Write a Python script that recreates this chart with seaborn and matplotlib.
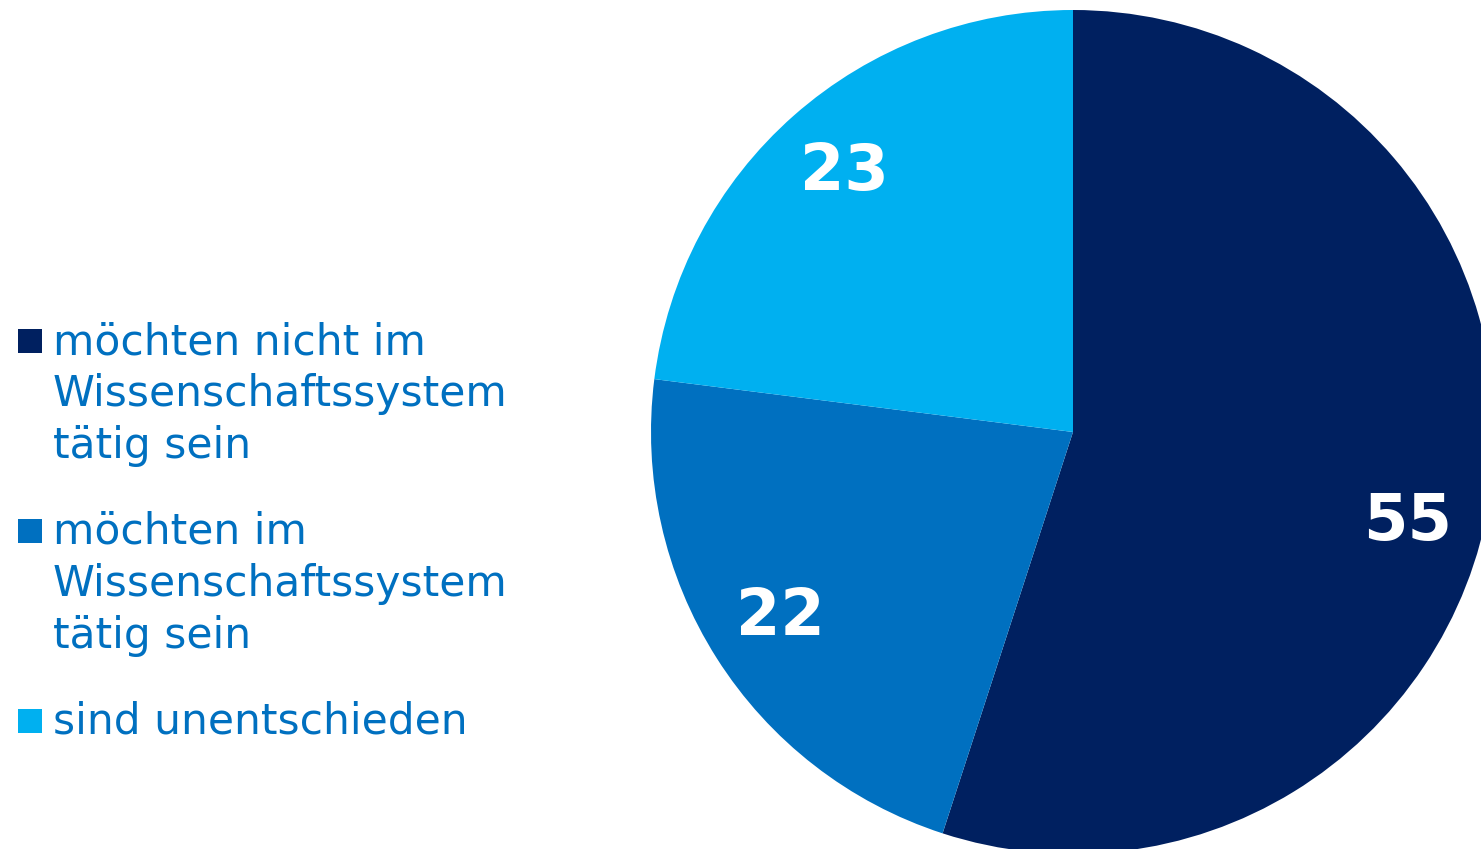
import matplotlib
matplotlib.use("Agg")
import matplotlib.pyplot as plt
from matplotlib.patches import Rectangle
import numpy as np
import seaborn as sns

# Daten
kategorien = ["möchten nicht im\nWissenschaftssystem\ntätig sein",
              "möchten im\nWissenschaftssystem\ntätig sein",
              "sind unentschieden"]
werte = [55, 22, 23]
farben = ["#002060", "#0070C0", "#00B0F0"]
textfarbe = "#0070C0"

sns.set_theme(style="white")
plt.rcParams['font.family'] = ['DejaVu Sans']

W, H = 1481, 849
fig = plt.figure(figsize=(W / 100, H / 100), dpi=100)

# Kreis: Mitte (1073, 432) px, Radius 422 px
cx, cy, r = 1073, 432, 422
ax = fig.add_axes([(cx - r) / W, (H - cy - r) / H, 2 * r / W, 2 * r / H])
wedges, texts, autotexts = ax.pie(
    werte, colors=farben, startangle=90, counterclock=False,
    autopct=lambda p: f"{p:.0f}", pctdistance=0.82,
    wedgeprops={'linewidth': 0},
    textprops={'color': 'white', 'fontsize': 46, 'fontweight': 'bold'})
# große Zahl etwas tiefer setzen (wie in Excel)
w0 = wedges[0]
winkel = np.deg2rad((w0.theta1 + w0.theta2) / 2 - 6)
autotexts[0].set_position((0.82 * np.cos(winkel), 0.82 * np.sin(winkel)))
ax.set_xlim(-1, 1)
ax.set_ylim(-1, 1)
ax.set_aspect('equal')
ax.axis('off')

# Legende links, von Hand gesetzt
zeile = 52
y_base = 354
for kat, farbe in zip(kategorien, farben):
    fig.add_artist(Rectangle((18 / W, 1 - (y_base - 1) / H), 24 / W, 24 / H,
                             transform=fig.transFigure, color=farbe, lw=0))
    zeilen = kat.split("\n")
    for i, z in enumerate(zeilen):
        fig.text(53 / W, 1 - (y_base + i * zeile) / H, z, color=textfarbe,
                 fontsize=30.5, va='baseline', ha='left')
    y_base += len(zeilen) * zeile + 34

fig.savefig("out.png", dpi=100)
